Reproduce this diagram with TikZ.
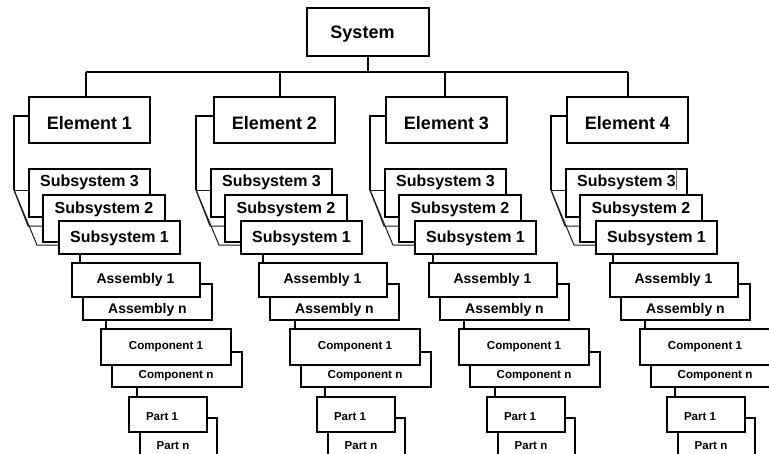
\documentclass[tikz,border=0pt]{standalone}
\usepackage{fontspec}
\setmainfont{Liberation Sans}
\tikzset{
  x=1pt, y=-1pt,
  box/.style={draw=black, line width=1.6pt, fill=white, inner sep=0pt, outer sep=0pt, anchor=north west},
  lbl/.style={inner sep=0pt, anchor=base},
  fE/.style={font=\bfseries\fontsize{18}{20}\selectfont},
  fS/.style={font=\bfseries\fontsize{16}{18}\selectfont},
  fA/.style={font=\bfseries\fontsize{14}{16}\selectfont},
  fC/.style={font=\bfseries\fontsize{11.6}{13}\selectfont},
  fP/.style={font=\bfseries\fontsize{11.5}{13}\selectfont},
  conn/.style={line width=1.3pt, draw=black},
  busline/.style={line width=1.7pt, draw=black},
  thinc/.style={line width=1pt, draw=black!90},
}
% #1 id, #2 dxE, #3 dxS, #4 dxA, #5 dxC, #6 dxP, #7 S->A connector x, #8 drop x
\newcommand\colm[8]{%
  \node[box, minimum width=121pt, minimum height=46pt] (e-#1) at ({29+#2},97) {};
  \node[lbl, fE] (et-#1) at ({89.5+#2},129) {Element #1};
  \node[box, minimum width=121pt, minimum height=48pt] (s3-#1) at ({29+#3},169) {};
  \node[lbl, fS] (s3t-#1) at ({89.5+#3},186) {Subsystem 3};
  \node[box, minimum width=122pt, minimum height=47pt] (s2-#1) at ({43+#3},195) {};
  \node[lbl, fS] (s2t-#1) at ({104+#3},213) {Subsystem 2};
  \node[box, minimum width=121pt, minimum height=33pt] (s1-#1) at ({59+#3},221) {};
  \node[lbl, fS] (s1t-#1) at ({119.5+#3},242) {Subsystem 1};
  \node[box, minimum width=129pt, minimum height=36pt] (an-#1) at ({83+#4},284) {};
  \node[lbl, fA] (ant-#1) at ({147.5+#4},313) {Assembly n};
  \node[box, minimum width=128pt, minimum height=34pt] (a1-#1) at ({72+#4},263) {};
  \node[lbl, fA] (a1t-#1) at ({135.5+#4},283) {Assembly 1};
  \node[box, minimum width=130pt, minimum height=35pt] (cn-#1) at ({112+#5},352) {};
  \node[lbl, fC] (cnt-#1) at ({176+#5},378) {Component n};
  \node[box, minimum width=130pt, minimum height=36pt] (c1-#1) at ({101+#5},329) {};
  \node[lbl, fC] (c1t-#1) at ({166+#5},349) {Component 1};
  \node[box, minimum width=77pt, minimum height=50pt] (pn-#1) at ({140+#6},418) {};
  \node[lbl, fP] (pnt-#1) at ({173+#6},449) {Part n};
  \node[box, minimum width=78pt, minimum height=35pt] (p1-#1) at ({129+#6},397) {};
  \node[lbl, fP] (p1t-#1) at ({162+#6},420) {Part 1};
  % connectors
  \coordinate (bus-#1) at (#8,72);
  \draw[conn] (bus-#1) -- (bus-#1 |- e-#1.north);
  \coordinate (k-#1) at ({14+#3},190);
  \coordinate (d2-#1) at ({28+#3},226);
  \coordinate (d1-#1) at ({37+#3},245);
  \draw[conn] ([yshift=-19pt]e-#1.north west) -| (k-#1);
  \draw[thinc] (k-#1) -- (s3-#1.west |- k-#1);
  \draw[thinc] (k-#1) -- (d2-#1) -- (s2-#1.west |- d2-#1);
  \draw[thinc] (k-#1) -- (d1-#1) -- (s1-#1.west |- d1-#1);
  \coordinate (sa-#1) at (#7,0);
  \draw[conn] (s1-#1.south -| sa-#1) -- (a1-#1.north -| sa-#1);
  \coordinate (ac-#1) at ({106+#5},0);
  \draw[conn] (an-#1.south -| ac-#1) -- (c1-#1.north -| ac-#1);
  \coordinate (cp-#1) at ({137+#6},0);
  \draw[conn] (cn-#1.south -| cp-#1) -- (p1-#1.north -| cp-#1);
}
\begin{document}
\begin{tikzpicture}
  \useasboundingbox (0,0) rectangle (769,453);
  \fill[white] (0,0) rectangle (769,453);
  \clip (0,0) rectangle (769,453);
  \node[box, minimum width=122pt, minimum height=48pt] (sys) at (307,8) {};
  \node[lbl, fE] (syst) at (362.5,38) {System};
  \colm{1}{0}{0}{0}{0}{0}{80}{86}
  \colm{2}{185}{182}{187}{189}{188}{263}{280}
  \colm{3}{357}{356}{357}{358}{358}{433}{445}
  \colm{4}{538}{537}{538}{539}{538}{613}{628}
  \draw[conn] (sys.south) -- (sys.south |- bus-1);
  \draw[busline] (bus-1) -- (bus-4);
  \draw[black!55, line width=0.8pt] (s3-4.north -| 676,0) -- ++(0,21);
\end{tikzpicture}
\end{document}
